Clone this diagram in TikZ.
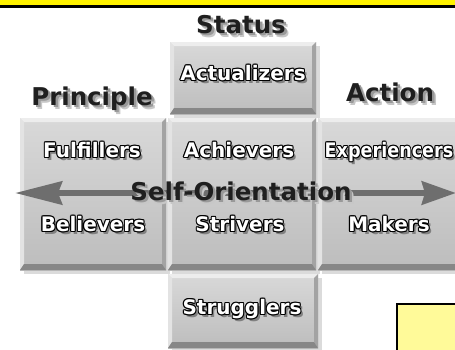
\documentclass[tikz,border=0pt]{standalone}
\usepackage{fontspec}
\usepackage{graphicx}
\setmainfont{DejaVu Sans}
\usetikzlibrary{arrows.meta,shadows}
\newcommand\cp[4]{\makebox[0pt][l]{\kern#1\raisebox{#2}{\color{#3}#4}}}
\newcommand\wlab[1]{%
\cp{2.6pt}{-2.6pt}{black!50}{#1}%
\cp{-1.1pt}{0pt}{black}{#1}\cp{1.1pt}{0pt}{black}{#1}%
\cp{0pt}{1.1pt}{black}{#1}\cp{0pt}{-1.1pt}{black}{#1}%
\cp{-.8pt}{.8pt}{black}{#1}\cp{.8pt}{.8pt}{black}{#1}%
\cp{-.8pt}{-.8pt}{black}{#1}\cp{.8pt}{-.8pt}{black}{#1}%
{\color{white}#1}}
\newcommand\dlab[1]{%
\cp{4pt}{-4pt}{black!22}{#1}\cp{2.5pt}{-2.5pt}{black!40}{#1}%
{\color{black!88}#1}}
\begin{document}
\begin{tikzpicture}[x=1pt,y=-1pt,
 tile/.style={inner sep=0pt, outer sep=0pt, shade, top color=black!15, bottom color=black!26,
  drop shadow={shadow xshift=4pt, shadow yshift=-4pt, fill=black!14, opacity=1},
  path picture={
   \fill[black!7] (path picture bounding box.north west) -- (path picture bounding box.north east)
     -- ([shift={(-4pt,-4pt)}]path picture bounding box.north east) -- ([shift={(4pt,-4pt)}]path picture bounding box.north west) -- cycle;
   \fill[black!11] (path picture bounding box.north west) -- (path picture bounding box.south west)
     -- ([shift={(4pt,6pt)}]path picture bounding box.south west) -- ([shift={(4pt,-4pt)}]path picture bounding box.north west) -- cycle;
   \fill[black!36] (path picture bounding box.north east) -- (path picture bounding box.south east)
     -- ([shift={(-4pt,6pt)}]path picture bounding box.south east) -- ([shift={(-4pt,-4pt)}]path picture bounding box.north east) -- cycle;
   \fill[black!47] (path picture bounding box.south west) -- (path picture bounding box.south east)
     -- ([shift={(-4pt,6pt)}]path picture bounding box.south east) -- ([shift={(4pt,6pt)}]path picture bounding box.south west) -- cycle;
  }},
 hdr/.style={font=\bfseries\fontsize{24.5}{26}\selectfont, inner sep=0pt, anchor=base},
 lab/.style={font=\bfseries\fontsize{20}{22}\selectfont, inner sep=0pt, anchor=base},
 axis/.style={line width=6pt, draw=black!57,
  arrows={Stealth[length=47pt,width=23pt,inset=4pt,fill=black!57]-Stealth[length=34pt,width=23pt,inset=3pt,fill=black!57]}}]
\useasboundingbox (0,0) rectangle (455,349);
\clip (0,0) rectangle (455,349);
\fill[white] (0,0) rectangle (455,349);
% top bar
\fill[yellow] (0,0) rectangle (455,5);
\fill[black] (0,5) rectangle (455,7.5);
% tiles
\node[tile, minimum width=146pt, minimum height=72pt] (tTop) at (243,78) {};
\node[tile, minimum width=146pt, minimum height=152pt] (tLeft) at (93,194) {};
\node[tile, minimum width=148pt, minimum height=152pt] (tMid) at (242,194) {};
\node[tile, minimum width=146pt, minimum height=152pt] (tRight) at (391,194) {};
\node[tile, minimum width=150pt, minimum height=74pt] (tBot) at (243,311) {};
% axis arrow
\coordinate (aL) at (15,193);
\coordinate (aR) at (456,193);
\draw[axis] (aL) -- (aR);
% headers
\node[hdr] (status) at (241,33) {\dlab{Status}};
\node[hdr] (principle) at (92,105) {\dlab{Principle}};
\node[hdr] (action) at (390,101) {\dlab{Action}};
\node[hdr] (selfor) at (241,200) {\dlab{Self-Orientation}};
% segment labels
\node[lab] (actualizers) at (243,80.5) {\wlab{Actualizers}};
\node[lab] (fulfillers) at (92,157.5) {\wlab{Fulfillers}};
\node[lab] (achievers) at (239,157.5) {\wlab{Achievers}};
\node[lab] (experiencers) at (389,157.5) {\scalebox{0.88}[1]{\wlab{Experiencers}}};
\node[lab] (believers) at (93,231.5) {\wlab{Believers}};
\node[lab] (strivers) at (240,231.5) {\wlab{Strivers}};
\node[lab] (makers) at (389,231.5) {\wlab{Makers}};
\node[lab] (strugglers) at (242,314.5) {\wlab{Strugglers}};
% note box
\node[draw=black, line width=2pt, fill=yellow!40, inner sep=0pt, minimum width=80pt, minimum height=60pt] (note) at (437,334) {};
\end{tikzpicture}
\end{document}
